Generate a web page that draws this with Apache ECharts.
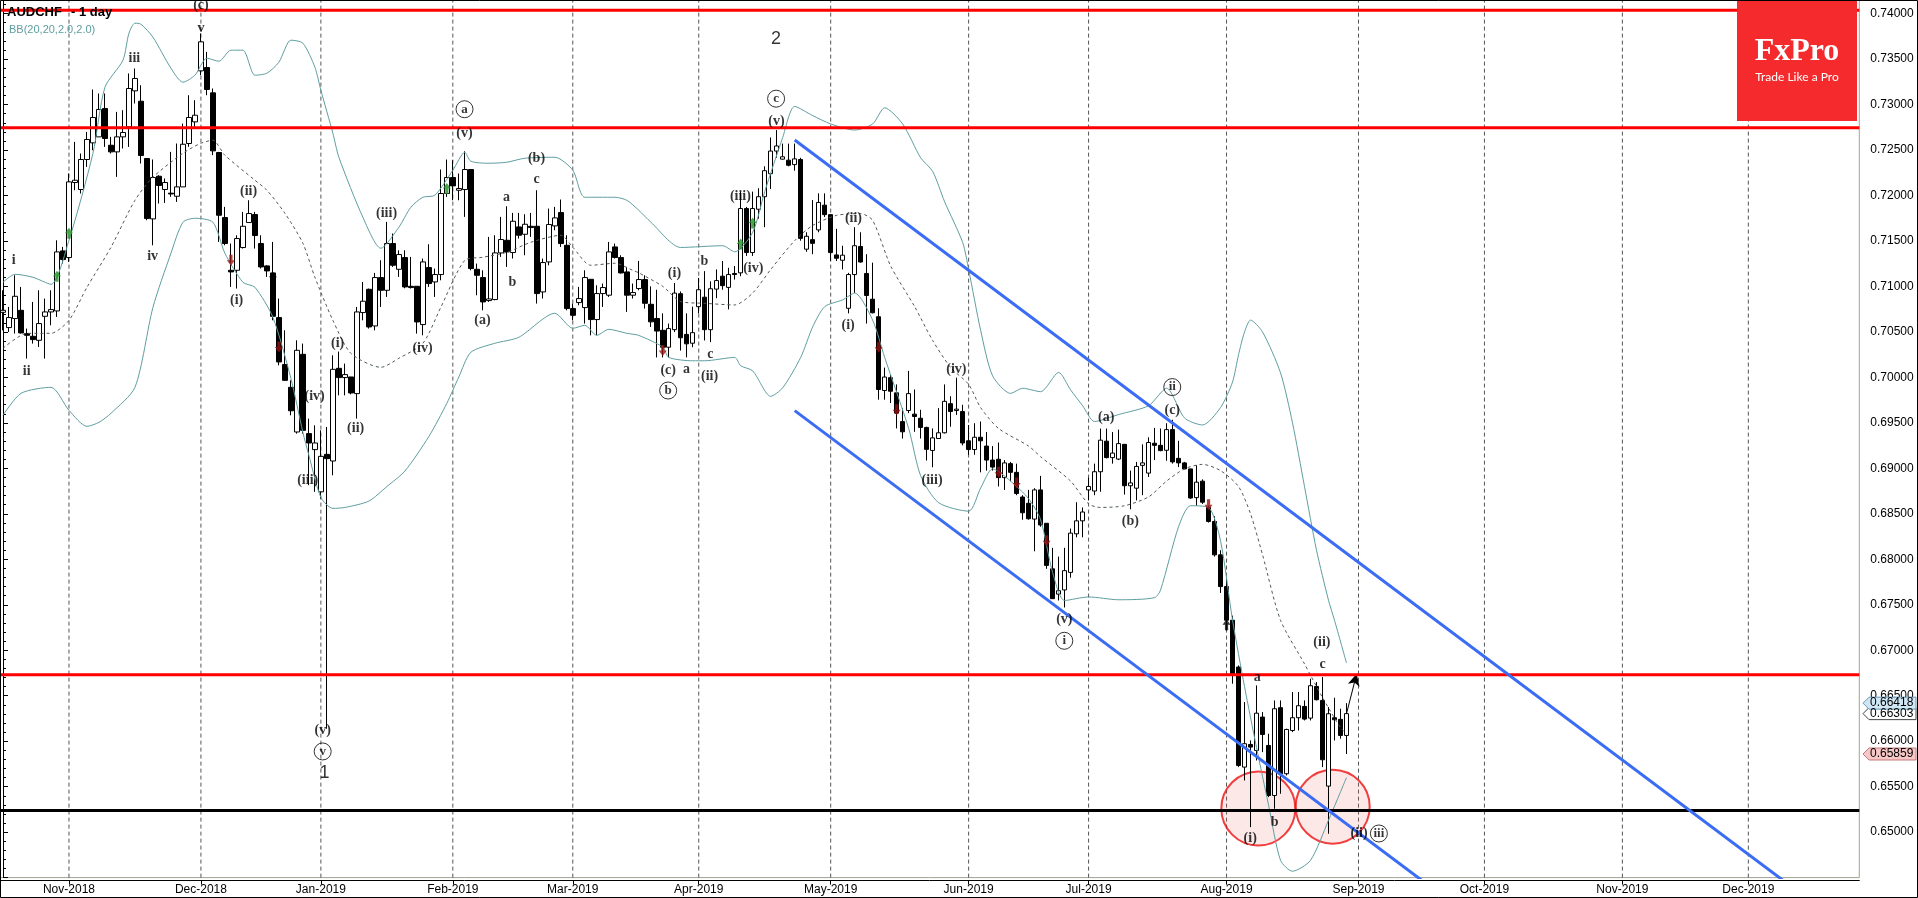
<!DOCTYPE html>
<html><head><meta charset="utf-8">
<script src="https://cdn.jsdelivr.net/npm/echarts@6/dist/echarts.min.js"></script>
<style>html,body{margin:0;padding:0;background:#fff;}#c{width:1918px;height:898px;}</style>
</head><body><div id="c"></div>
<script>
const symbolName = 'AUDCHF';
const timeframe = '- 1 day';
const indicatorName = 'BB(20,20,2.0,2.0)';
const firstDay = [2018, 9, 17];
const barCount = 310;
const holidays = ['2018-12-25', '2019-01-01', '2019-12-25'];

const opens = [.70716,.70548,.70647,.70738,.70482,.70452,.70408,.70672,.70720,.70731,.71391,.71318,.72143,.72066,.72396,.72579,.72645,.72957,.72553,.72480,.72645,.72755,.73151,.73037,.72407,.71743,.72212,.72066,.72026,.71992,.72095,.72572,.72810,.73371,.73408,.73129,.72473,.71758,.71178,.71178,.71428,.71703,.71791,.71472,.71226,.71149,.70658,.70141,.69891,.69400,.70254,.69382,.69206,.68742,.69154,.69081,
.70100,.69998,.70005,.69822,.70713,.70969,.70566,.71098,.70958,.71472,.71189,.71318,.71002,.71002,.70581,.71208,.71050,.71131,.72022,.72198,.72058,.72066,.72286,.71189,.71098,.70845,.70856,.71369,.71508,.71373,.71655,.71574,.71662,.71662,.70940,.71270,.71666,.71813,.71453,.70757,.70823,.70768,.71079,.70636,.70922,.70904,.71435,.71318,.71160,.70904,.70977,.71076,
.70804,.70648,.70518,.70332,.70525,.70920,.70473,.70376,.70778,.70882,.70525,.70971,.71113,.70990,.71143,.71150,.71857,.71373,.71849,.71987,.72240,.72489,.72400,.72389,.72340,.72396,.71410,.71515,.71622,.71894,.71790,.71347,.71288,.70760,.71131,.71440,.71143,.70860,.70667,.69856,.69997,.69830,.69514,.69636,.69596,.69551,.69450,.69197,.69328,.69391,.69711,.69636,.69625,
.69303,.69207,.69342,.69245,.69091,.69100,.68898,.69052,.68956,.68685,.68616,.68442,.68763,.68396,.67895,.67617,.67663,.67856,.68280,.68423,.68763,.68751,.68963,.69299,.69118,.69102,.69264,.68809,.68782,.69033,.68948,.69276,.69253,.69199,.69426,.69110,.69060,.68994,.68678,.68859,.68570,.68416,
.68049,.67700,.67330,.66815,.65715,.65964,.65898,.66265,.65953,.65403,.66368,.65642,.66118,.66258,.66382,.66254,.66602,.66448,.65506,.66258,.66240,.66063];
const closes = [.70738,.70658,.70892,.70489,.70463,.70416,.70592,.70720,.70746,.71380,.71296,.72150,.72168,.72396,.72616,.72858,.72946,.72627,.72480,.72645,.72693,.73177,.73287,.72440,.71747,.72198,.72110,.72143,.72017,.72095,.72564,.72858,.72883,.73690,.73166,.72491,.71783,.71472,.71160,.71527,.71662,.71802,.71560,.71215,.71171,.70672,.70170,.69968,.69633,.70298,.69418,.69279,.69279,.69132,.69107,.70089,
.69998,.70031,.69829,.70720,.70838,.70555,.71098,.70958,.71472,.71233,.71351,.70995,.70988,.70610,.71270,.71032,.71131,.72022,.72198,.72106,.72077,.72286,.71197,.71123,.70830,.70863,.71369,.71516,.71380,.71717,.71563,.71684,.71648,.70922,.71263,.71681,.71754,.71472,.70757,.70683,.70867,.71098,.70636,.70922,.70988,.71380,.71318,.71149,.70904,.70933,.71076,.70815,
.70611,.70510,.70332,.70537,.70927,.70436,.70369,.70492,.70964,.70525,.70975,.71065,.71009,.71131,.71131,.71857,.71373,.71857,.71987,.72273,.72489,.72545,.72426,.72333,.72403,.71529,.71552,.71474,.71924,.71790,.71373,.71310,.71344,.71131,.71448,.71269,.70901,.70711,.69867,.70004,.69848,.69607,.69402,.69822,.69570,.69450,.69209,.69335,.69391,.69737,.69625,.69651,.69279,
.69207,.69342,.69303,.69091,.69014,.68898,.69060,.68956,.68724,.68512,.68446,.68763,.68377,.67933,.67567,.67655,.67875,.68288,.68423,.68520,.68801,.68963,.69310,.69118,.69168,.69272,.68809,.68840,.69021,.69060,.69284,.69253,.69195,.69426,.69071,.69060,.68994,.68674,.68848,.68628,.68416,.68049,
.67700,.67330,.66742,.65733,.65972,.65935,.66308,.66074,.65403,.66357,.65642,.66129,.66258,.66390,.66243,.66610,.66456,.65796,.66302,.66236,.66063,.66303];
const lows = [.70518,.70500,.70482,.70482,.70207,.70372,.70335,.70207,.70573,.70665,.71252,.71270,.72058,.72022,.72315,.72498,.72645,.72535,.72462,.72205,.72517,.72535,.73012,.72352,.71728,.71453,.71912,.71919,.71985,.71930,.72095,.72535,.72755,.73323,.73103,.72444,.71490,.71453,.70995,.70977,.71417,.71699,.71417,.71197,.71105,.70628,.70133,.69960,.69583,.69382,.69382,.68815,.68742,.68668,.66137,.68924,
.69803,.69803,.69814,.69547,.70628,.70537,.70518,.70775,.70885,.71215,.71105,.70980,.70977,.70482,.70463,.70995,.70885,.71068,.71985,.71948,.71948,.71765,.71178,.70903,.70738,.70830,.70848,.71325,.71215,.71307,.71527,.71343,.71545,.70812,.70867,.71233,.71618,.71435,.70738,.70628,.70793,.70592,.70463,.70463,.70775,.70885,.71307,.71142,.70720,.70867,.70958,.70757,
.70555,.70220,.70220,.70220,.70499,.70295,.70220,.70332,.70704,.70406,.70388,.70871,.70964,.70748,.71076,.71113,.71336,.71336,.71745,.71652,.72072,.72415,.72396,.72321,.72273,.71503,.71381,.71355,.71596,.71764,.71280,.71280,.71187,.70704,.70927,.71262,.70592,.70704,.69755,.69755,.69718,.69439,.69328,.69607,.69402,.69328,.69086,.69012,.69328,.69384,.69458,.69588,.69253,
.69149,.69149,.68956,.68975,.68975,.68801,.68763,.68859,.68705,.68435,.68435,.68088,.68358,.67895,.67567,.67547,.67470,.67798,.68242,.68242,.68647,.68705,.68743,.69110,.69052,.69091,.68712,.68550,.68647,.68705,.68905,.69091,.69188,.69083,.69052,.69014,.68990,.68666,.68589,.68609,.68404,.68030,
.67630,.67220,.66632,.65715,.65568,.65055,.65788,.65880,.65385,.65257,.65422,.65623,.66100,.66118,.66228,.66228,.66448,.65715,.64982,.66008,.66027,.65859];
const highs = [.70958,.70775,.71123,.70995,.70537,.70830,.70958,.70867,.70958,.71508,.71435,.72242,.72590,.72462,.72700,.73166,.73122,.73122,.72645,.72920,.72938,.73342,.73397,.73213,.72407,.72396,.72223,.72187,.72480,.72572,.72792,.73103,.73048,.73782,.73580,.73177,.72480,.71875,.71472,.71563,.71820,.71948,.71820,.71563,.71233,.71490,.70867,.70518,.69968,.70408,.70372,.69547,.69473,.69418,.69455,.70243,
.70284,.70152,.70005,.70775,.71050,.70977,.71149,.71288,.71710,.71582,.71398,.71398,.71325,.71002,.71307,.71464,.71197,.72286,.72396,.72388,.72242,.72487,.72286,.71252,.71178,.71545,.71563,.71765,.71882,.71809,.71809,.71794,.71809,.72058,.71307,.71857,.71875,.71956,.71563,.70812,.70995,.71178,.71079,.71013,.71032,.71490,.71472,.71343,.71215,.71032,.71281,.71123,
.71001,.70964,.70704,.70592,.71038,.70945,.70704,.70778,.71094,.71169,.71057,.71187,.71280,.71206,.71225,.72043,.71875,.72043,.72080,.72321,.72638,.72720,.72571,.72571,.72571,.72415,.71596,.71950,.72024,.72024,.71790,.71634,.71448,.71150,.71652,.71596,.71355,.71262,.70760,.70108,.70034,.69923,.69662,.70072,.69867,.69644,.69458,.69439,.69662,.69923,.69793,.69997,.69699,
.69477,.69496,.69515,.69399,.69245,.69284,.69091,.69071,.69052,.68705,.68763,.68782,.68917,.68396,.68126,.68030,.68126,.68338,.68628,.68570,.68898,.69052,.69438,.69438,.69399,.69426,.69264,.68975,.69071,.69264,.69342,.69445,.69438,.69496,.69534,.69303,.69071,.68994,.69033,.68879,.68589,.68474,
.68100,.67800,.67380,.66833,.66430,.66009,.66613,.66320,.66082,.66448,.66448,.66137,.66540,.66540,.66448,.66687,.66650,.66705,.66375,.66478,.66357,.66418];

// Bollinger bands: [bar index, price]
const bbUpper = [[0,.71046],[2,.71134],[5,.71101],[8,.71024],[11,.71508],[15,.72465],[17,.73191],[20,.73488],[21,.73785],[22,.73895],[23,.73884],[25,.73741],[28,.73400],[30,.73246],[32,.73323],[34,.73510],[36,.73477],[38,.73598],[40,.73598],[42,.73323],[44,.73345],[46,.73466],[48,.73708],[50,.73675],[52,.73411],[53,.73158],[55,.72685],[56,.72421],[60,.71761],[63,.71420],[66,.71651],[68,.71871],[70,.71981],[72,.72003],[75,.72278],[77,.72476],[78,.72377],[81,.72355],[84,.72366],[87,.72410],[92,.72421],[95,.72278],[97,.71981],[102,.71981],[104,.71948],[106,.71838],[108,.71708],[113,.71429],[120,.71448],[122,.71381],[125,.71596],[127,.72043],[130,.72638],[132,.72980],[135,.72879],[138,.72787],[142,.72720],[145,.72787],[147,.72965],[150,.72787],[153,.72415],[155,.72266],[157,.71931],[160,.71485],[161,.71187],[163,.70518],[165,.70017],[168,.69824],[170,.69881],[173,.69843],[176,.70055],[178,.69863],[180,.69689],[182,.69515],[186,.69592],[191,.69689],[194,.69881],[197,.69554],[200,.69477],[203,.69669],[205,.6995],[206,.7025],[207,.7050],[208,.7063],[210,.7050],[213,.7005],[215,.6950],[217,.6880],[219,.6810],[221,.6755],[222,.6733],[224,.6686]];
const bbLower = [[0,.69583],[3,.69825],[8,.69891],[11,.69638],[14,.69462],[16,.69506],[18,.69605],[22,.69891],[25,.70771],[28,.71365],[30,.71706],[32,.71750],[35,.71706],[37,.71365],[40,.71046],[42,.70991],[45,.70661],[48,.69990],[50,.69396],[51,.69143],[53,.68681],[55,.6856],[57,.6857],[61,.6864],[64,.6880],[67,.6897],[71,.6935],[74,.69715],[76,.70005],[78,.70276],[82,.70375],[86,.70441],[92,.70705],[95,.70540],[97,.70573],[99,.70463],[101,.70529],[104,.70485],[106,.70462],[110,.70333],[111,.70220],[115,.70183],[117,.70183],[122,.70220],[123,.70128],[125,.70072],[128,.69792],[130,.69886],[133,.70220],[135,.70556],[137,.70778],[140,.70853],[142,.70928],[145,.70629],[147,.70220],[151,.69439],[153,.68919],[156,.68622],[161,.68529],[163,.68783],[165,.68995],[168,.68860],[171,.68666],[173,.68435],[175,.67856],[177,.67547],[181,.67586],[186,.67555],[192,.67578],[193,.67663],[196,.68358],[198,.68589],[201,.68570],[203,.68203],[205,.6733],[207,.6660],[209,.6593],[211,.6530],[213,.6469],[215,.6457],[218,.6469],[221,.6513],[224,.6560]];
const bbMiddle = [[0,.70320],[4,.70485],[8,.70485],[11,.70628],[14,.70991],[18,.71431],[22,.71948],[25,.72201],[30,.72465],[33,.72575],[35,.72608],[37,.72443],[42,.72168],[44,.72058],[47,.71805],[50,.71475],[52,.71101],[55,.70628],[58,.70265],[63,.70111],[66,.70210],[70,.70375],[73,.70771],[77,.71288],[80,.71321],[84,.71376],[88,.71486],[93,.71563],[95,.71431],[98,.71233],[102,.71255],[105,.71178],[106,.71150],[110,.71001],[113,.70834],[117,.70815],[122,.70797],[125,.70928],[128,.71187],[132,.71504],[135,.71671],[139,.71782],[143,.71801],[145,.71726],[148,.71225],[152,.70778],[155,.70406],[158,.70109],[161,.69923],[163,.69668],[166,.69438],[171,.69245],[173,.69128],[178,.68860],[181,.68609],[183,.68570],[187,.68589],[191,.68686],[194,.68860],[197,.68995],[200,.69044],[203,.68975],[206,.6880],[208,.6850],[210,.6805],[213,.6733],[217,.6685],[220,.6648],[223,.6615],[224,.6608]];

const redLevels = [0.74038, 0.72744, 0.66731];
const blackLevels = [0.65238];
const channelUpper = [[132, 0.72610], [300, 0.64311]];
const channelLower = [[132, 0.69635], [240, 0.64300]];
const circleMarks = [[209.3, 0.6526], [221.7, 0.6528]];
const projectionArrow = [[224, 0.66302], [225.7, 0.66742]];

const waveLabels = [[33,.74093,'(c)'],[33,.73840,'v'],[21.9,.73510,'iii'],[1.8,.71288,'i'],[3.95,.70067,'ii'],[24.95,.71332,'iv'],[40.95,.72047,'(ii)'],[38.95,.70848,'(i)'],[51.95,.69792,'(iv)'],[50.8,.68868,'(iii)'],[53.3,.66118,'(v)'],[55.8,.70375,'(i)'],[58.8,.69440,'(ii)'],[63.95,.71805,'(iii)'],[69.95,.70320,'(iv)'],[76.95,.72685,'(v)'],[88.95,.72410,'(b)'],[83.95,.71981,'a'],[88.95,.72179,'c'],[84.95,.71046,'b'],[79.95,.70628,'(a)'],[128.95,.72813,'(v)'],[122.95,.71987,'(iii)'],[125.1,.71198,'(iv)'],[116.95,.71281,'b'],[111.95,.71139,'(i)'],[110.9,.70078,'(c)'],[113.95,.70083,'a'],[117.95,.70258,'c'],[117.8,.70016,'(ii)'],[141.8,.71745,'(ii)'],[140.9,.70573,'(i)'],[158.95,.70089,'(iv)'],[154.9,.68863,'(iii)'],[183.95,.69561,'(a)'],[187.95,.68417,'(b)'],[194.95,.69638,'(c)'],[176.95,.67335,'(v)'],[219.9,.67090,'(ii)'],[220,.66841,'c'],[209.1,.66698,'a'],[212,.65110,'b'],[207.95,.64927,'(i)'],[226.1,.64985,'(ii)']];
const circledLabels = [[53.3,.65887,'v'],[76.95,.72949,'a'],[128.9,.73065,'c'],[110.9,.69856,'b'],[194.95,.69894,'ii'],[176.95,.67104,'i'],[229.4,.64985,'iii']];
const degreeLabels = [[53.6,.65645,'1'],[128.9,.73719,'2']];
const buyArrows = [[9,.71112],[11,.71585],[74,.72077],[123,.71467],[125,.71697]];
const sellArrows = [[38,.71288],[46,.70335],[110,.70295],[146,.70332],[149,.69644],[166,.68956],[169,.68840],[174,.68203],[201,.68601]];
const plainArrows = [[45,.71101],[204,.67280]];
const priceTags = [[0.66303,'#ffffff','#444444'],[0.66418,'#cfe6f4','#6d9cb8'],[0.65859,'#f7c6c6','#c87b7b']];

const MON = ['Jan','Feb','Mar','Apr','May','Jun','Jul','Aug','Sep','Oct','Nov','Dec'];
function buildDates() {
  const out = [];
  const d = new Date(Date.UTC(firstDay[0], firstDay[1], firstDay[2]));
  while (out.length < barCount) {
    const wd = d.getUTCDay();
    const s = d.toISOString().slice(0, 10);
    if (wd !== 0 && wd !== 6 && holidays.indexOf(s) < 0) out.push(s);
    d.setUTCDate(d.getUTCDate() + 1);
  }
  return out;
}
const dates = buildDates();
const monthStarts = [];
for (let i = 1; i < dates.length; i++) if (dates[i].slice(0, 7) !== dates[i - 1].slice(0, 7)) monthStarts.push(i);
const monthSet = new Set(monthStarts);

const Y_MIN = 0.645, Y_MAX = 0.7415;
const candles = opens.map((o, i) => [o, closes[i], lows[i], highs[i]]);
const sepData = [];
monthStarts.forEach(k => { sepData.push([k, Y_MIN], [k, Y_MAX], [k, null]); });
function levelData(levels) {
  const a = [];
  levels.forEach(p => { a.push([-0.5, p], [barCount - 0.5, p], [barCount - 0.5, null]); });
  return a;
}
const upPath = 'path://M5 0 L10 6 L7 6 L7 12 L3 12 L3 6 L0 6 Z';

const chart = echarts.init(document.getElementById('c'), null, {renderer: 'canvas'});
const option = {
  animation: false,
  backgroundColor: '#ffffff',
  grid: {left: -0.7, right: 58.7, top: 0, height: 877.6, show: true, borderColor: '#a3a294', borderWidth: 1, backgroundColor: 'transparent'},
  xAxis: [{
    type: 'category', data: dates, boundaryGap: true, offset: 3,
    axisLine: {show: true, lineStyle: {color: '#000', width: 1}},
    axisTick: {show: true, alignWithLabel: true, interval: (i) => monthSet.has(i), length: 4, lineStyle: {color: '#000'}},
    axisLabel: {interval: (i) => monthSet.has(i), formatter: v => MON[+v.slice(5, 7) - 1] + '-' + v.slice(0, 4), color: '#000', fontSize: 12, fontFamily: 'Liberation Sans', margin: 3},
    splitLine: {show: false}
  }, {
    type: 'value', min: -0.5, max: barCount - 0.5, show: false
  }],
  yAxis: [{
    type: 'value', position: 'right', min: Y_MIN, max: Y_MAX, interval: 0.005, offset: 6,
    axisLine: {show: true, lineStyle: {color: '#000'}},
    axisTick: {show: true, length: 5, lineStyle: {color: '#000'}},
    minorTick: {show: true, splitNumber: 5, length: 3, lineStyle: {color: '#000'}},
    splitLine: {show: false},
    axisLabel: {formatter: v => v.toFixed(5), showMinLabel: false, showMaxLabel: false, color: '#000', fontFamily: 'Liberation Sans', fontSize: 12, margin: 5}
  }],
  series: [
    {type: 'line', xAxisIndex: 1, data: sepData, symbol: 'none', connectNulls: false, lineStyle: {color: '#555', width: 1, type: [4, 3]}, silent: true, z: 1},
    {type: 'scatter', xAxisIndex: 1, data: circleMarks, symbol: 'circle', symbolSize: 74, itemStyle: {color: 'rgba(245,110,110,0.20)', borderColor: '#ee1010', borderWidth: 2}, silent: true, z: 1},
    {type: 'candlestick', xAxisIndex: 0, data: candles, barWidth: 5,
      itemStyle: {color: '#ffffff', color0: '#000000', borderColor: '#000000', borderColor0: '#000000', borderWidth: 1}, z: 3},
    {type: 'line', xAxisIndex: 1, data: bbUpper, symbol: 'none', smooth: 0.25, lineStyle: {color: '#5f9ea0', width: 1}, z: 4},
    {type: 'line', xAxisIndex: 1, data: bbLower, symbol: 'none', smooth: 0.25, lineStyle: {color: '#5f9ea0', width: 1}, z: 4},
    {type: 'line', xAxisIndex: 1, data: bbMiddle, symbol: 'none', smooth: 0.25, lineStyle: {color: '#505a5a', width: 1, type: [3, 3]}, z: 4},
    {type: 'line', xAxisIndex: 1, data: levelData(redLevels), symbol: 'none', connectNulls: false, lineStyle: {color: '#ff0000', width: 3}, z: 5},
    {type: 'line', xAxisIndex: 1, data: levelData(blackLevels), symbol: 'none', connectNulls: false, lineStyle: {color: '#000000', width: 3}, z: 5},
    {type: 'line', xAxisIndex: 1, data: channelUpper, symbol: 'none', lineStyle: {color: '#3b6cf4', width: 3}, z: 5},
    {type: 'line', xAxisIndex: 1, data: channelLower, symbol: 'none', lineStyle: {color: '#3b6cf4', width: 3}, z: 5},
    {type: 'line', xAxisIndex: 1, data: [], z: 6,
      markLine: {silent: true, symbol: ['none', 'arrow'], symbolSize: [9, 12], label: {show: false}, lineStyle: {color: '#000', width: 1, type: 'solid'},
        data: [[{coord: projectionArrow[0]}, {coord: projectionArrow[1]}]]}},
    {type: 'scatter', xAxisIndex: 1, data: buyArrows, symbol: upPath, symbolSize: [8, 11], itemStyle: {color: '#1f8f1f'}, z: 6},
    {type: 'scatter', xAxisIndex: 1, data: sellArrows, symbol: upPath, symbolRotate: 180, symbolSize: [8, 11], itemStyle: {color: '#9a1010'}, z: 6},
    {type: 'scatter', xAxisIndex: 1, data: plainArrows, symbol: upPath, symbolSize: [8, 11], itemStyle: {color: '#000'}, z: 6},
    {type: 'scatter', xAxisIndex: 1, symbolSize: 1, itemStyle: {color: 'rgba(0,0,0,0)'}, z: 7,
      data: waveLabels.map(l => ({value: [l[0], l[1]], label: {formatter: l[2]}})),
      label: {show: true, position: 'inside', fontFamily: 'Liberation Serif', fontWeight: 'bold', fontSize: 14, color: '#000'}},
    {type: 'scatter', xAxisIndex: 1, symbol: 'circle', symbolSize: 17, itemStyle: {color: 'rgba(255,255,255,0)', borderColor: '#000', borderWidth: 1}, z: 7,
      data: circledLabels.map(l => ({value: [l[0], l[1]], label: {formatter: l[2]}})),
      label: {show: true, position: 'inside', fontFamily: 'Liberation Serif', fontWeight: 'bold', fontSize: 13, color: '#000'}},
    {type: 'scatter', xAxisIndex: 1, symbolSize: 1, itemStyle: {color: 'rgba(0,0,0,0)'}, z: 7,
      data: degreeLabels.map(l => ({value: [l[0], l[1]], label: {formatter: l[2]}})),
      label: {show: true, position: 'inside', fontFamily: 'Liberation Sans', fontSize: 18, color: '#000'}}
  ],
  graphic: [
    {id: 't1', type: 'text', left: 7, top: 6, z: 100, style: {text: symbolName, font: 'bold 13px "Liberation Sans"', fill: '#000'}},
    {id: 't2', type: 'text', left: 71, top: 6, z: 100, style: {text: timeframe, font: 'bold 13px "Liberation Sans"', fill: '#000'}},
    {id: 't3', type: 'text', left: 9, top: 24, z: 100, style: {text: indicatorName, font: '11px "Liberation Sans"', fill: '#5f9ea0'}},
    {id: 'logo', type: 'rect', left: 1737, top: 0, z: 100, shape: {width: 120, height: 121}, style: {fill: '#f42a2c'}},
    {id: 'logo1', type: 'text', z: 101, x: 1797, y: 52, style: {text: 'FxPro', font: 'bold 32px "Liberation Serif"', fill: '#fff', textAlign: 'center', textVerticalAlign: 'middle'}},
    {id: 'logo2', type: 'text', z: 101, x: 1797, y: 77, style: {text: 'Trade Like a Pro', font: '12px Lato', fill: '#fff', textAlign: 'center', textVerticalAlign: 'middle'}},
    {id: 'frame', type: 'rect', z: 100, shape: {x: 0.5, y: 0.5, width: 1917, height: 897}, style: {fill: 'none', stroke: '#000', lineWidth: 1}}
  ]
};
chart.setOption(option);

const tagEls = [];
priceTags.forEach((t, i) => {
  const y = chart.convertToPixel({yAxisIndex: 0}, t[0]);
  const x0 = 1863;
  tagEls.push({id: 'tagp' + i, type: 'polygon', z: 110, shape: {points: [[x0, y], [x0 + 6, y - 6], [1916, y - 6], [1916, y + 6], [x0 + 6, y + 6]]}, style: {fill: t[1], stroke: t[2], lineWidth: 1}});
  tagEls.push({id: 'tagt' + i, type: 'text', z: 111, x: 1870, y: y, style: {text: t[0].toFixed(5), font: '12px "Liberation Sans"', fill: '#000', textVerticalAlign: 'middle'}});
});
chart.setOption({graphic: tagEls});
</script></body></html>
